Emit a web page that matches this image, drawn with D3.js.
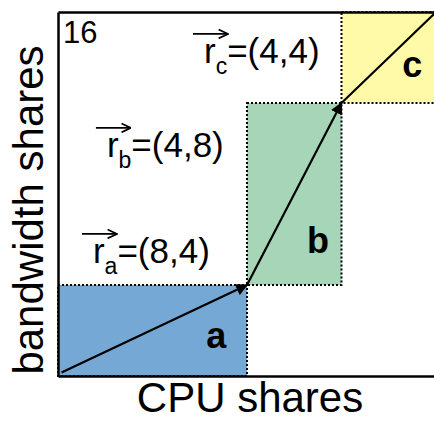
<!DOCTYPE html>
<html>
<head>
<meta charset="utf-8">
<script src="https://cdn.jsdelivr.net/npm/d3@7"></script>
<style>
  body { margin: 0; background: #fff; }
  svg { display: block; font-family: "Liberation Sans", Arial, sans-serif; }
</style>
</head>
<body>
<div id="chart"></div>
<script>
// share boxes: [x0, y0, x1, y1] in share units
let boxNames = ["a", "b", "c"];
let boxX0 = [0, 8, 12];
let boxY0 = [0, 4, 12];
let boxX1 = [8, 12, 16];
let boxY1 = [4, 12, 16];
let boxColors = ["#75a8d5", "#a6d5b8", "#fffaa8"];
// where the bold box letter sits (share units)
let boxLabelX = [6.7, 11.0, 15.0];
let boxLabelY = [1.25, 5.4, 13.15];

// allocation path
let pathX = [0.15, 8, 12, 16];
let pathY = [0.15, 4, 12, 16];

// vector annotations
let vecSub = ["a", "b", "c"];
let vecVal = ["=(8,4)", "=(4,8)", "=(4,4)"];
let vecX = [1.48, 2.07, 6.18];
let vecY = [4.97, 9.63, 13.76];

let maxShare = 16;
let axisTickText = "16";

let margin = {top: 12, right: 0, bottom: 46, left: 58};
let W = 434, H = 422;
let width = 378, height = 364;

let x = d3.scaleLinear().domain([0, maxShare]).range([margin.left, margin.left + width]);
let y = d3.scaleLinear().domain([0, maxShare]).range([margin.top + height, margin.top]);

let svg = d3.select("#chart").append("svg")
    .attr("width", W)
    .attr("height", H);

let defs = svg.append("defs");
// filled arrowhead on the path
defs.append("marker")
    .attr("id", "tri")
    .attr("viewBox", "0 0 10 10")
    .attr("refX", 9).attr("refY", 5)
    .attr("markerWidth", 5.5).attr("markerHeight", 5.5)
    .attr("markerUnits", "strokeWidth")
    .attr("orient", "auto")
    .append("path")
    .attr("d", "M0,0 L10,5 L0,10 z")
    .attr("fill", "#000");
// open arrowhead for vectors
defs.append("marker")
    .attr("id", "vec")
    .attr("viewBox", "0 0 10 10")
    .attr("refX", 9.5).attr("refY", 5)
    .attr("markerWidth", 11).attr("markerHeight", 11)
    .attr("markerUnits", "userSpaceOnUse")
    .attr("orient", "auto")
    .append("path")
    .attr("d", "M1,1 L9.5,5 L1,9")
    .attr("fill", "none")
    .attr("stroke", "#000")
    .attr("stroke-width", 1.6);

// boxes
boxNames.forEach(function (n, i) {
    svg.append("rect")
        .attr("x", x(boxX0[i]))
        .attr("y", y(boxY1[i]))
        .attr("width", x(boxX1[i]) - x(boxX0[i]))
        .attr("height", y(boxY0[i]) - y(boxY1[i]))
        .attr("fill", boxColors[i])
        .attr("stroke", "#000")
        .attr("stroke-width", 2)
        .attr("stroke-dasharray", "2,2");
});

// path segments, each with its own arrowhead
for (let i = 0; i < pathX.length - 1; i++) {
    svg.append("line")
        .attr("x1", x(pathX[i])).attr("y1", y(pathY[i]))
        .attr("x2", x(pathX[i + 1])).attr("y2", y(pathY[i + 1]))
        .attr("stroke", "#000")
        .attr("stroke-width", 2.2)
        .attr("marker-end", i < 2 ? "url(#tri)" : null);
}

// axes (no ticks, just the lines)
svg.append("g")
    .attr("transform", "translate(" + margin.left + ",0)")
    .call(d3.axisLeft(y).tickValues([]).tickSizeOuter(0))
    .select(".domain").attr("stroke-width", 2.5);
svg.append("g")
    .attr("transform", "translate(0," + y(0) + ")")
    .call(d3.axisBottom(x).tickValues([]).tickSizeOuter(0))
    .select(".domain").attr("stroke-width", 2.5);
svg.append("g")
    .attr("transform", "translate(0," + y(maxShare) + ")")
    .call(d3.axisTop(x).tickValues([]).tickSizeOuter(0))
    .select(".domain").attr("stroke-width", 2.5);

// box letters
boxNames.forEach(function (n, i) {
    svg.append("text")
        .attr("x", x(boxLabelX[i]))
        .attr("y", y(boxLabelY[i]))
        .attr("text-anchor", "middle")
        .style("font-size", "36px")
        .style("font-weight", "bold")
        .text(n);
});

// vector labels
vecSub.forEach(function (s, i) {
    let t = svg.append("text")
        .attr("x", x(vecX[i]))
        .attr("y", y(vecY[i]))
        .style("font-size", "35px");
    t.append("tspan").text("r");
    t.append("tspan").attr("dy", 11).style("font-size", "23px").text(s);
    t.append("tspan").attr("dy", -11).text(vecVal[i]);
    let x0 = x(vecX[i]) - 11;
    svg.append("line")
        .attr("x1", x0).attr("x2", x0 + 35)
        .attr("y1", y(vecY[i]) - 29).attr("y2", y(vecY[i]) - 29)
        .attr("stroke", "#000")
        .attr("stroke-width", 1.8)
        .attr("marker-end", "url(#vec)");
});

// max tick label
svg.append("text")
    .attr("x", margin.left + 5)
    .attr("y", 43)
    .style("font-size", "31px")
    .text(axisTickText);

// axis titles
svg.append("text")
    .attr("x", 250)
    .attr("y", 412)
    .attr("text-anchor", "middle")
    .style("font-size", "42px")
    .text("CPU shares");
svg.append("text")
    .attr("transform", "translate(43,210) rotate(-90)")
    .attr("text-anchor", "middle")
    .style("font-size", "42px")
    .text("bandwidth shares");
</script>
</body>
</html>
